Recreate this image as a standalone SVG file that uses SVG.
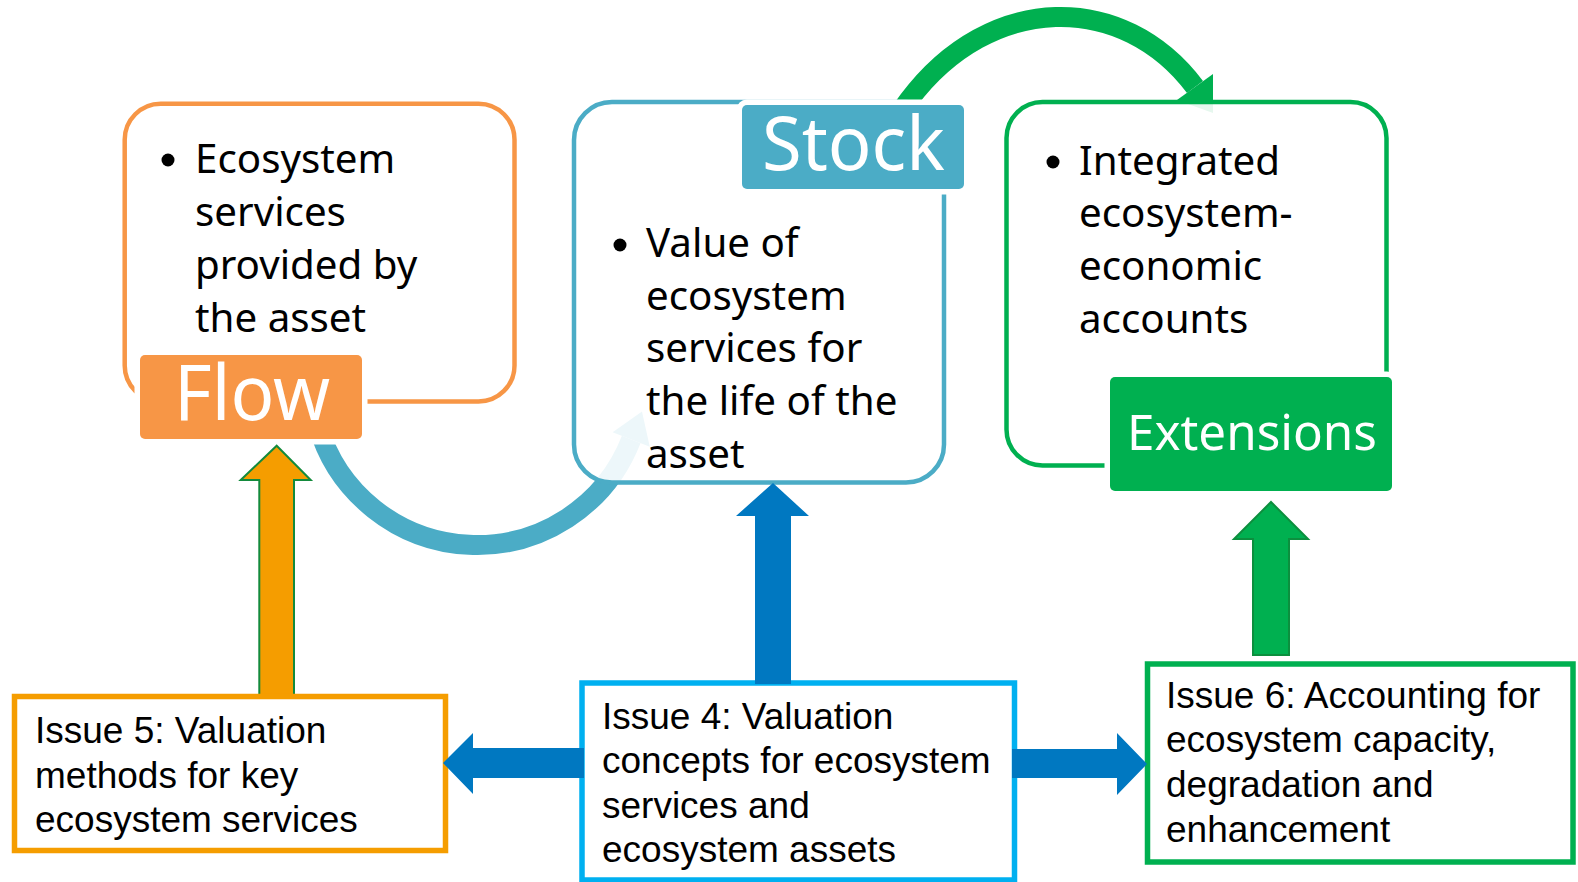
<svg xmlns="http://www.w3.org/2000/svg" width="1578" height="882" viewBox="0 0 1578 882">
<style>
.bt{font-family:"Noto Sans","Open Sans",sans-serif;font-size:40.3px;fill:#000}
.it{font-family:"Liberation Sans",Arial,sans-serif;font-size:37px;fill:#000}
.lbl{font-family:"Noto Sans","Open Sans",sans-serif;fill:#fff}
.rbox{fill:#fff;fill-opacity:0.9;stroke-width:4.5}
.tag{stroke:#fff;stroke-width:11;paint-order:stroke}
.ibox{fill:#fff;stroke-width:5.5}
.blue{fill:#0078C1}
</style>
<rect width="1578" height="882" fill="#fff"/>
<g id="connectors">
  <path d="M901 111 L909 100 C990.4 -8.5 1123.4 -8.5 1195 87" fill="none" stroke="#00B050" stroke-width="20"/>
  <polygon points="1177,100 1213,74 1213,113" fill="#00B050"/>
  <path d="M317.7 424.5 A165.5 165.5 0 0 0 631.2 439.5" fill="none" stroke="#4BACC6" stroke-width="20"/>
  <polygon points="612.6,432.3 649.8,446.7 642,411.5" fill="#4BACC6"/>
</g>
<g id="flow-box">
  <rect class="rbox" x="124.7" y="103.7" width="389.8" height="297.8" rx="36" stroke="#F79646"/>
  <rect class="tag" x="140" y="355" width="222" height="84" rx="5" fill="#F79646"/>
  <text class="lbl" x="174" y="420" font-size="76" textLength="156" lengthAdjust="spacingAndGlyphs">Flow</text>
  <circle cx="168" cy="160" r="6.5"/>
  <text class="bt" x="195" y="173">Ecosystem</text>
  <text class="bt" x="195" y="226">services</text>
  <text class="bt" x="195" y="279">provided by</text>
  <text class="bt" x="195" y="332">the asset</text>
</g>
<g id="stock-box">
  <rect class="rbox" x="574" y="102" width="370" height="380.5" rx="38" stroke="#4BACC6"/>
  <rect class="tag" x="742" y="105" width="222" height="84" rx="5" fill="#4BACC6"/>
  <text class="lbl" x="762" y="170" font-size="74" textLength="183" lengthAdjust="spacingAndGlyphs">Stock</text>
  <circle cx="620" cy="245" r="6.5"/>
  <text class="bt" x="646" y="257">Value of</text>
  <text class="bt" x="646" y="310">ecosystem</text>
  <text class="bt" x="646" y="362">services for</text>
  <text class="bt" x="646" y="415">the life of the</text>
  <text class="bt" x="646" y="468">asset</text>
</g>
<g id="extensions-box">
  <rect class="rbox" x="1006.5" y="102" width="380" height="363.5" rx="36" stroke="#00B050"/>
  <rect class="tag" x="1110" y="377" width="282" height="114" rx="5" fill="#00B050"/>
  <text class="lbl" x="1127" y="450" font-size="49" textLength="250" lengthAdjust="spacingAndGlyphs">Extensions</text>
  <circle cx="1053" cy="162" r="6.5"/>
  <text class="bt" x="1079" y="175">Integrated</text>
  <text class="bt" x="1079" y="227">ecosystem-</text>
  <text class="bt" x="1079" y="280">economic</text>
  <text class="bt" x="1079" y="333">accounts</text>
</g>
<g id="up-arrows">
  <polygon points="276.7,445.7 310.7,480 294,480 294,695 259.3,695 259.3,480 240.7,480" fill="#F59D00" stroke="#138A3C" stroke-width="2"/>
  <polygon points="1271,502 1308,539 1289,539 1289,655 1253,655 1253,539 1234,539" fill="#00B050" stroke="#0C8F3E" stroke-width="2"/>
</g>
<g id="issue5">
  <rect class="ibox" x="14.5" y="696.5" width="431" height="154" stroke="#F59D00"/>
  <text class="it" x="35" y="743">Issue 5: Valuation</text>
  <text class="it" x="35" y="788">methods for key</text>
  <text class="it" x="35" y="832">ecosystem services</text>
</g>
<g id="issue6">
  <rect class="ibox" x="1147.5" y="664" width="425.5" height="198" stroke="#00B050"/>
  <text class="it" x="1166" y="708">Issue 6: Accounting for</text>
  <text class="it" x="1166" y="752">ecosystem capacity,</text>
  <text class="it" x="1166" y="797">degradation and</text>
  <text class="it" x="1166" y="842">enhancement</text>
</g>
<g id="issue4">
  <rect class="ibox" x="582" y="683" width="432.5" height="197" stroke="#00B0F0"/>
  <text class="it" x="602" y="729">Issue 4: Valuation</text>
  <text class="it" x="602" y="773">concepts for ecosystem</text>
  <text class="it" x="602" y="818">services and</text>
  <text class="it" x="602" y="862">ecosystem assets</text>
</g>
<g id="blue-arrows">
  <polygon class="blue" points="773,483 809,516 791,516 791,684 755,684 755,516 736,516"/>
  <polygon class="blue" points="443,763 473,733 473,748 584,748 584,778 473,778 473,794"/>
  <polygon class="blue" points="1147,764 1117,733 1117,749 1012,749 1012,778 1117,778 1117,795"/>
</g>
</svg>
